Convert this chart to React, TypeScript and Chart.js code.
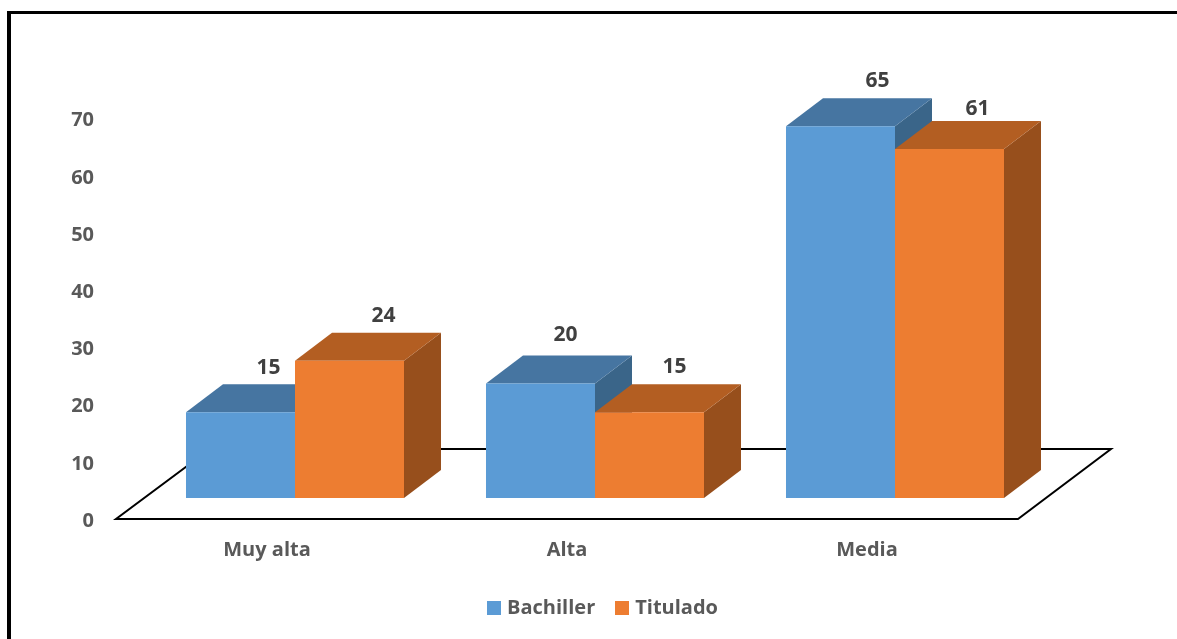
import React, { useEffect, useRef } from "react";
import { Chart, registerables } from "chart.js";

Chart.register(...registerables);

const categories = ["Muy alta", "Alta", "Media"];
const bachiller = [15, 20, 65];
const titulado = [24, 15, 61];
const seriesNames = ["Bachiller", "Titulado"];
const yTicks = [0, 10, 20, 30, 40, 50, 60, 70];

const palette = [
  { front: "#5B9BD5", top: "#4675A1", side: "#3A6589" },
  { front: "#ED7D31", top: "#B35E22", side: "#974F1C" },
];
const DEPTH_X = 37;
const DEPTH_Y = 28;
const FONT = '"Open Sans", sans-serif';

// hand placement of the value labels, relative to each bar's top-centre
const labelNudge = [
  [[28, -44], [25, -49], [37, -45]],
  [[34, -45], [25, -45], [28, -40]],
];

const swatch = (color: string) => {
  const c = document.createElement("canvas");
  c.width = 14;
  c.height = 14;
  const g = c.getContext("2d")!;
  g.fillStyle = color;
  g.fillRect(0, 0, 14, 14);
  return c;
};

const poly = (ctx: CanvasRenderingContext2D, pts: number[][], fill: string) => {
  ctx.beginPath();
  pts.forEach(([x, y], i) => (i ? ctx.lineTo(x, y) : ctx.moveTo(x, y)));
  ctx.closePath();
  ctx.fillStyle = fill;
  ctx.fill();
};

const floorAndDepth = {
  id: "floorAndDepth",
  afterLayout(chart: any) {
    if (chart.legend) {
      chart.legend.left += 9.5;
      chart.legend.right += 9.5;
      chart.legend.top -= 11;
      chart.legend.bottom -= 11;
    }
  },
  beforeDatasetsDraw(chart: any) {
    const { ctx, chartArea: a } = chart;
    const b = a.bottom;
    ctx.save();
    ctx.beginPath();
    ctx.moveTo(a.left - 29, b + 21);
    ctx.lineTo(a.right - 27, b + 21);
    ctx.lineTo(a.right + 66, b - 49);
    ctx.lineTo(a.left + 65, b - 49);
    ctx.closePath();
    ctx.strokeStyle = "#000";
    ctx.lineWidth = 2;
    ctx.stroke();
    chart.data.labels.forEach((_: string, i: number) => {
      chart.data.datasets.forEach((_d: any, d: number) => {
        const el = chart.getDatasetMeta(d).data[i];
        const half = el.width / 2;
        const l = el.x - half;
        const r = el.x + half;
        poly(ctx, [[r, el.y], [r + DEPTH_X, el.y - DEPTH_Y], [r + DEPTH_X, b - DEPTH_Y], [r, b]], palette[d].side);
        poly(ctx, [[l, el.y], [l + DEPTH_X, el.y - DEPTH_Y], [r + DEPTH_X, el.y - DEPTH_Y], [r, el.y]], palette[d].top);
      });
    });
    ctx.restore();
  },
  afterDatasetsDraw(chart: any) {
    const { ctx } = chart;
    ctx.save();
    ctx.font = `bold 21px ${FONT}`;
    ctx.fillStyle = "#404040";
    ctx.textAlign = "center";
    ctx.textBaseline = "middle";
    chart.data.datasets.forEach((ds: any, d: number) => {
      ds.data.forEach((v: number, i: number) => {
        const el = chart.getDatasetMeta(d).data[i];
        const [nx, ny] = labelNudge[d][i];
        ctx.fillText(String(v), el.x + nx, el.y + ny);
      });
    });
    ctx.restore();
  },
};

export default function App() {
  const ref = useRef<HTMLCanvasElement>(null);
  useEffect(() => {
    document.body.style.margin = "0";
    document.body.style.overflow = "hidden";
    const swatches = palette.map((p) => swatch(p.front));
    const chart = new Chart(ref.current!, {
      type: "bar",
      plugins: [floorAndDepth],
      data: {
        labels: categories,
        datasets: [
          { label: seriesNames[0], data: bachiller, backgroundColor: palette[0].front, categoryPercentage: 0.7267, barPercentage: 1 },
          { label: seriesNames[1], data: titulado, backgroundColor: palette[1].front, categoryPercentage: 0.7267, barPercentage: 1 },
        ],
      },
      options: {
        animation: false,
        responsive: false,
        layout: { padding: { left: 0, right: 132, top: 40.4, bottom: 0 } },
        plugins: {
          tooltip: { enabled: false },
          title: { display: false },
          legend: {
            display: true,
            position: "bottom",
            fullSize: false,
            labels: {
              usePointStyle: true,
              boxWidth: 6,
              boxHeight: 14,
              padding: 24,
              color: "#595959",
              font: { family: FONT, size: 20, weight: "bold" },
              generateLabels: (c: any) =>
                Chart.defaults.plugins.legend.labels
                  .generateLabels(c)
                  .map((it: any, i: number) => ({ ...it, pointStyle: swatches[i] })),
            },
          },
        },
        scales: {
          x: {
            grid: { display: false, drawTicks: false },
            border: { display: false },
            afterFit: (s: any) => { s.height = 87; },
            ticks: {
              padding: 40,
              labelOffset: -28,
              color: "#595959",
              maxRotation: 0,
              font: { family: FONT, size: 20, weight: "bold" },
            },
          },
          y: {
            min: 0,
            max: 80,
            grid: { display: false, drawTicks: false },
            border: { display: false },
            afterFit: (s: any) => {
              s.width = 145;
              s.paddingTop = 0;
              s.paddingBottom = 0;
            },
            afterBuildTicks: (s: any) => { s.ticks = yTicks.map((value) => ({ value })); },
            ticks: {
              padding: 51,
              labelOffset: 23,
              color: "#595959",
              font: { family: FONT, size: 20, weight: "bold" },
            },
          },
        },
      } as any,
    });
    return () => chart.destroy();
  }, []);
  return (
    <div style={{ position: "relative", width: 1177, height: 639, background: "#fff", overflow: "hidden" }}>
      <div style={{ position: "absolute", left: 7, top: 11, right: -10, bottom: -10, borderLeft: "4px solid #000", borderTop: "3px solid #000" }} />
      <canvas ref={ref} width={1177} height={639} style={{ position: "absolute", left: 0, top: 0, display: "block" }} />
    </div>
  );
}
